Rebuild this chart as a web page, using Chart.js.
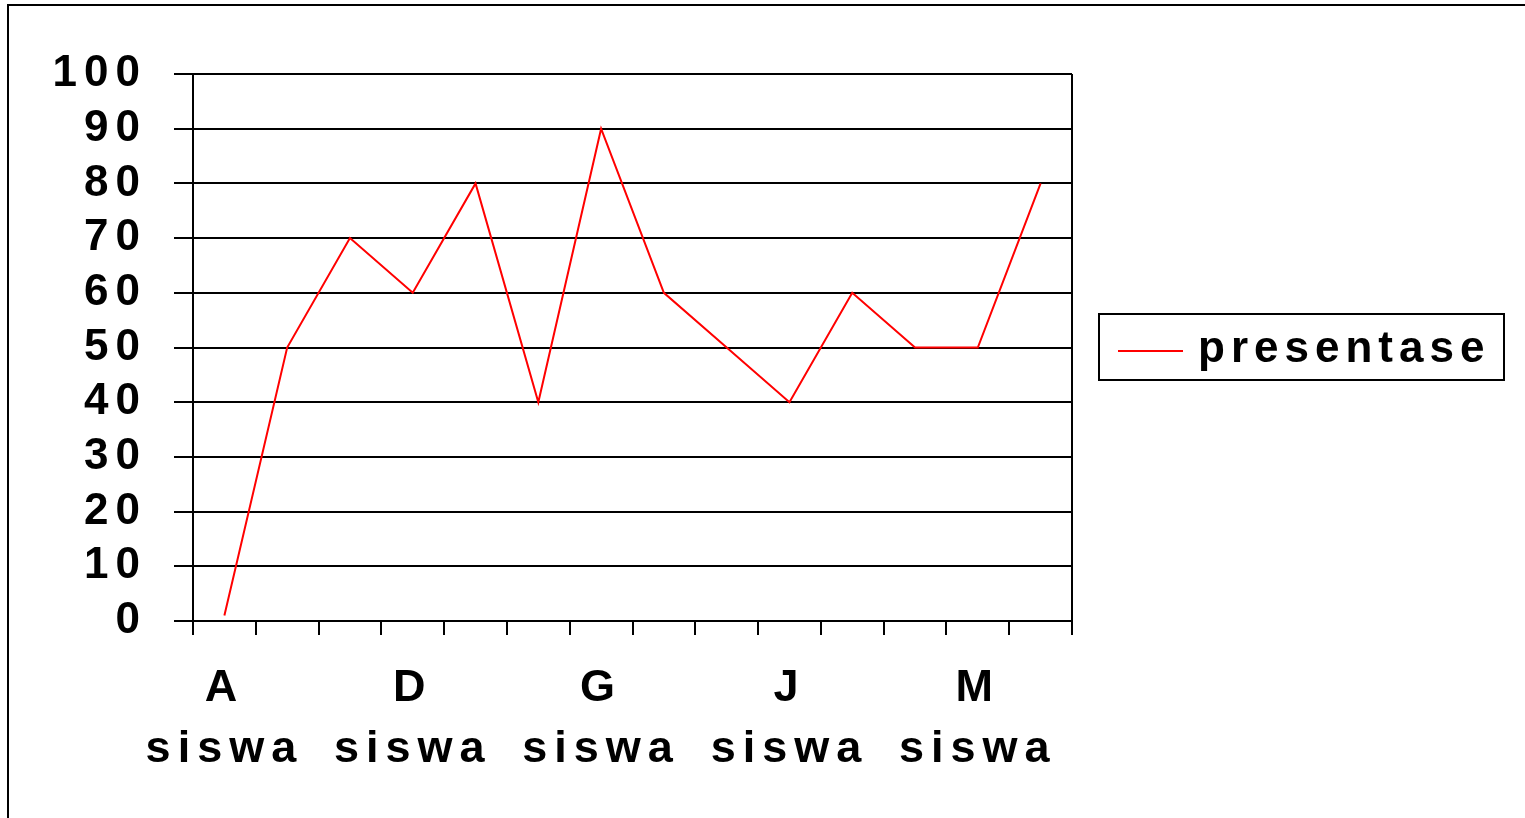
<!DOCTYPE html>
<html>
<head>
<meta charset="utf-8">
<script src="https://cdn.jsdelivr.net/npm/chart.js@4"></script>
<style>
  html, body { margin: 0; padding: 0; background: #fff; }
  #wrap { width: 1525px; height: 818px; }
</style>
</head>
<body>
<div id="wrap"><canvas id="chart" width="1525" height="818"></canvas></div>
<script>
// Students (one point each) and their percentage
const students = ['A', 'B', 'C', 'D', 'E', 'F', 'G', 'H', 'I', 'J', 'K', 'L', 'M', 'N'];
const presentase = [1, 50, 70, 60, 80, 40, 90, 60, 50, 40, 60, 50, 50, 80];
const seriesName = 'presentase';
const yTicks = { min: 0, max: 100, step: 10 };

const FONT = "'Liberation Sans', Arial, sans-serif";
const SPACING = '7px';

// Letter spacing for every text drawn on the canvas
const spacingPlugin = {
    id: 'spacing',
    beforeLayout(chart) { chart.ctx.letterSpacing = SPACING; },
    beforeDraw(chart) { chart.ctx.letterSpacing = SPACING; }
};

// Outer frame, right edge of the plot and the boxed legend
const framePlugin = {
    id: 'frame',
    afterDraw(chart) {
        const ctx = chart.ctx;
        const area = chart.chartArea;
        ctx.save();
        ctx.strokeStyle = '#000';
        ctx.lineWidth = 2;

        // page border (runs off the right and bottom)
        ctx.strokeRect(8, 5, chart.width + 20, chart.height + 20);

        // right edge of plot
        ctx.beginPath();
        ctx.moveTo(area.right, area.top);
        ctx.lineTo(area.right, area.bottom);
        ctx.stroke();

        // legend
        const ds = chart.data.datasets[0];
        const lx = area.right + 27, ly = 314, lw = 405, lh = 66;
        ctx.strokeRect(lx, ly, lw, lh);
        ctx.strokeStyle = ds.borderColor;
        ctx.lineWidth = 2;
        ctx.beginPath();
        ctx.moveTo(lx + 19, ly + lh / 2 + 4);
        ctx.lineTo(lx + 84, ly + lh / 2 + 4);
        ctx.stroke();
        ctx.fillStyle = '#000';
        ctx.font = 'bold 44px ' + FONT;
        ctx.letterSpacing = '6px';
        ctx.textBaseline = 'middle';
        ctx.textAlign = 'left';
        ctx.fillText(ds.label, lx + 99, ly + lh / 2 + 3);
        ctx.restore();
    }
};

new Chart(document.getElementById('chart'), {
    type: 'line',
    data: {
        labels: students,
        datasets: [{
            label: seriesName,
            data: presentase,
            borderColor: '#ff0000',
            borderWidth: 2,
            pointRadius: 0,
            tension: 0,
            fill: false
        }]
    },
    options: {
        responsive: false,
        animation: false,
        devicePixelRatio: 1,
        layout: { padding: { top: 74, right: 453, bottom: 0, left: 0 } },
        plugins: {
            legend: { display: false },
            tooltip: { enabled: false }
        },
        scales: {
            x: {
                offset: true,
                afterFit(scale) { scale.height = 197; },
                grid: {
                    offset: true,
                    drawOnChartArea: false,
                    drawTicks: true,
                    tickLength: 14,
                    color: '#000',
                    lineWidth: 2
                },
                border: { display: true, color: '#000', width: 2 },
                ticks: {
                    autoSkip: false,
                    maxRotation: 0,
                    minRotation: 0,
                    padding: 23,
                    color: '#000',
                    font: { family: FONT, size: 45, weight: 'bold', lineHeight: 1.36 },
                    callback: (v, i) => i % 3 === 0 ? [students[i], 'siswa'] : ''
                }
            },
            y: {
                min: yTicks.min,
                max: yTicks.max,
                afterFit(scale) { scale.width = 193; },
                grid: {
                    color: '#000',
                    lineWidth: 2,
                    drawTicks: true,
                    tickLength: 19
                },
                border: { display: true, color: '#000', width: 2 },
                ticks: {
                    stepSize: yTicks.step,
                    autoSkip: false,
                    padding: 27,
                    color: '#000',
                    font: { family: FONT, size: 44, weight: 'bold' }
                }
            }
        }
    },
    plugins: [spacingPlugin, framePlugin]
});
</script>
</body>
</html>
